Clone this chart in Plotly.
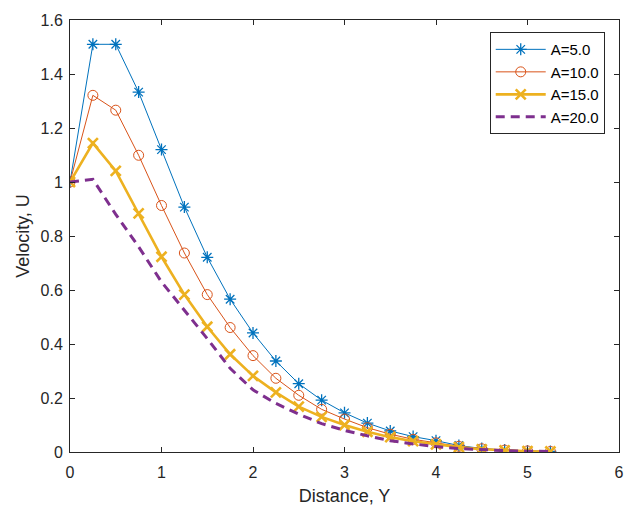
import plotly.graph_objects as go

# Distance grid and velocity profiles for each value of A
distance = [0.0, 0.25, 0.5, 0.75, 1.0, 1.25, 1.5, 1.75, 2.0, 2.25, 2.5, 2.75,
            3.0, 3.25, 3.5, 3.75, 4.0, 4.25, 4.5, 4.75, 5.0, 5.25]

u_a5 = [1.0, 1.51, 1.51, 1.333, 1.12, 0.907, 0.721, 0.566, 0.441, 0.337, 0.253, 0.192,
        0.145, 0.107, 0.078, 0.057, 0.042, 0.024, 0.013, 0.007, 0.004, 0.002]
u_a10 = [1.0, 1.321, 1.266, 1.099, 0.913, 0.737, 0.583, 0.461, 0.357, 0.273, 0.21, 0.158,
         0.122, 0.09, 0.066, 0.047, 0.034, 0.021, 0.012, 0.007, 0.004, 0.002]
u_a15 = [1.0, 1.144, 1.041, 0.884, 0.723, 0.583, 0.464, 0.362, 0.282, 0.221, 0.168, 0.13,
         0.1, 0.075, 0.055, 0.04, 0.028, 0.018, 0.01, 0.006, 0.003, 0.002]
u_a20 = [1.0, 1.01, 0.88, 0.76, 0.63, 0.525, 0.42, 0.31, 0.23, 0.18, 0.14, 0.105,
         0.08, 0.06, 0.042, 0.03, 0.02, 0.013, 0.008, 0.005, 0.003, 0.002]

series_names = ["A=5.0", "A=10.0", "A=15.0", "A=20.0"]

x_ticks = [0, 1, 2, 3, 4, 5, 6]
y_ticks = [0, 0.2, 0.4, 0.6, 0.8, 1.0, 1.2, 1.4, 1.6]
y_tick_text = ["0", "0.2", "0.4", "0.6", "0.8", "1", "1.2", "1.4", "1.6"]

BLUE = "#0072BD"
ORANGE = "#D95319"
YELLOW = "#EDB120"
PURPLE = "#7E2F8E"
AXIS = "#262626"
FONT = "Liberation Sans, Arial, sans-serif"

fig = go.Figure()

fig.add_trace(go.Scatter(
    x=distance, y=u_a5, name=series_names[0], mode="lines+markers",
    line=dict(color=BLUE, width=1),
    marker=dict(symbol="asterisk-open", size=10, line=dict(color=BLUE, width=1.3)),
))
fig.add_trace(go.Scatter(
    x=distance, y=u_a10, name=series_names[1], mode="lines+markers",
    line=dict(color=ORANGE, width=1),
    marker=dict(symbol="circle-open", size=10, color=ORANGE, line=dict(color=ORANGE, width=1)),
))
fig.add_trace(go.Scatter(
    x=distance, y=u_a15, name=series_names[2], mode="lines+markers",
    line=dict(color=YELLOW, width=2.6),
    marker=dict(symbol="x-thin-open", size=10, line=dict(color=YELLOW, width=2.6)),
))
fig.add_trace(go.Scatter(
    x=distance, y=u_a20, name=series_names[3], mode="lines",
    line=dict(color=PURPLE, width=3, dash="9px,6px"),
))

axis_common = dict(
    showline=True, linecolor=AXIS, linewidth=1, mirror="ticks",
    ticks="inside", ticklen=5, tickcolor=AXIS, tickwidth=1,
    showgrid=False, zeroline=False,
    tickfont=dict(family=FONT, size=16, color=AXIS),
)

fig.update_xaxes(
    range=[0, 6], tickvals=x_ticks, ticklabelstandoff=6,
    title=dict(text="Distance, Y", font=dict(family=FONT, size=18, color=AXIS), standoff=9),
    **axis_common,
)
fig.update_yaxes(
    range=[0, 1.6], tickvals=y_ticks, ticktext=y_tick_text, ticklabelstandoff=3,
    title=dict(text="Velocity, U", font=dict(family=FONT, size=18, color=AXIS), standoff=6),
    **axis_common,
)

fig.update_layout(
    width=636, height=515,
    margin=dict(l=70, r=14, t=14, b=62),
    paper_bgcolor="white", plot_bgcolor="white",
    font=dict(family=FONT, color=AXIS),
    legend=dict(
        x=0.974, y=0.972, xanchor="right", yanchor="top",
        bordercolor=AXIS, borderwidth=1, bgcolor="white",
        font=dict(family=FONT, size=15, color="#000000"),
        tracegroupgap=0, itemwidth=50,
    ),
)

fig.write_html("out.html")
